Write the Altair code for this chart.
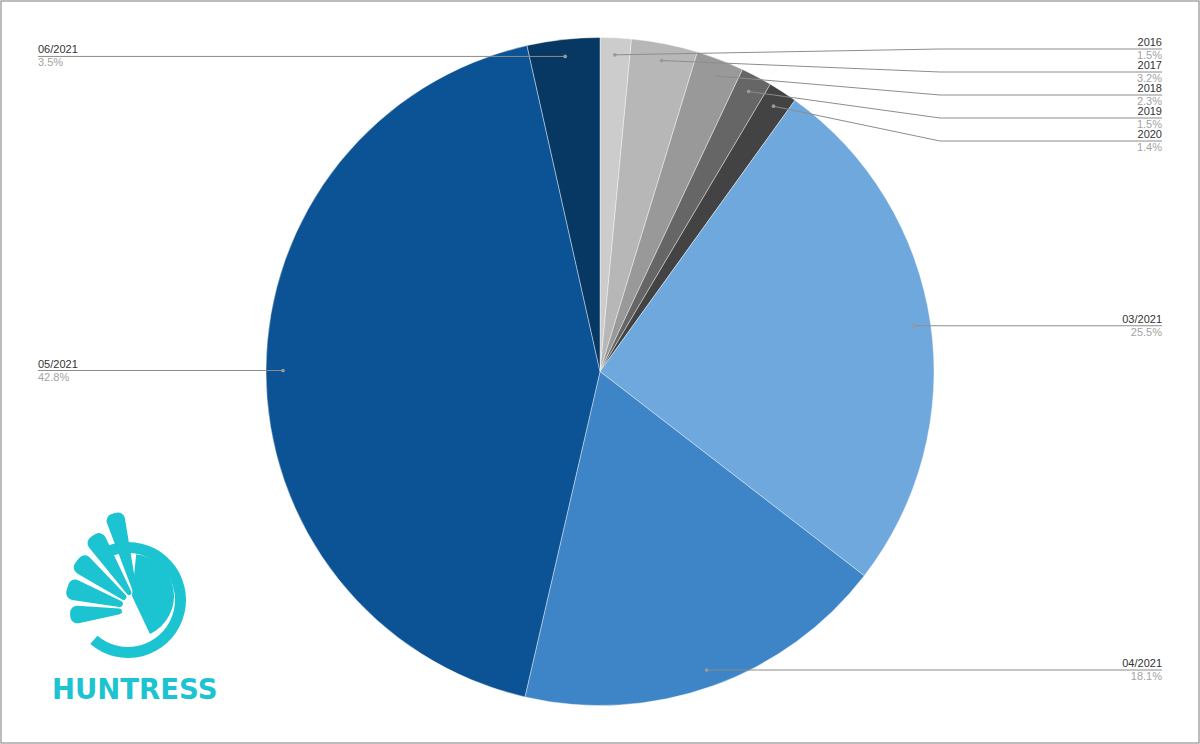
import numpy as np
import pandas as pd
import altair as alt

# Share of samples by date of first appearance
names = ["2016", "2017", "2018", "2019", "2020", "03/2021", "04/2021", "05/2021", "06/2021"]
shares = [1.5, 3.2, 2.3, 1.5, 1.4, 25.5, 18.1, 42.8, 3.5]
colors = ["#cccccc", "#b7b7b7", "#999999", "#666666", "#434343",
          "#6fa8dc", "#3d85c6", "#0b5394", "#073763"]

W, H = 1200, 744
CX, CY, R = 600, 371.5, 334          # pie centre and radius (px)
DOT_R = 317                           # radius where leader lines start
RIGHT_X, LEFT_X, BEND_X = 1162, 38, 940
LABEL_TOP, LABEL_GAP = 49, 23
FONT = "Liberation Sans"
TEAL = "#1cc3d1"

vals = np.array(shares, dtype=float)
total = vals.sum()
mid = (np.cumsum(vals) - vals / 2) / total * 2 * np.pi

df = pd.DataFrame({
    "name": names,
    "value": vals,
    "idx": range(len(names)),
    "pct": [f"{v}%" for v in shares],
})
df["dot_x"] = CX + DOT_R * np.sin(mid)
df["dot_y"] = CY - DOT_R * np.cos(mid)
df["side"] = np.where(np.sin(mid) >= 0, "right", "left")


def place(dot_ys):
    """Stack labels so they keep a minimum gap; crowded stacks start at the top."""
    ys, prev = [], -1e9
    for d in dot_ys:
        y = max(d, prev + LABEL_GAP)
        ys.append(y)
        prev = y
    ys = np.array(ys)
    crowded = [i for i in range(len(ys) - 1) if ys[i + 1] - ys[i] <= LABEL_GAP + 1e-9]
    if crowded:
        start = crowded[0]
        if ys[start] - LABEL_TOP < LABEL_GAP:
            end = start
            while end + 1 < len(ys) and ys[end + 1] - ys[end] <= LABEL_GAP + 1e-9:
                end += 1
            shift = ys[start] - LABEL_TOP
            ys[start:end + 1] -= shift
    return ys


df["label_y"] = df["dot_y"]
df["label_x"] = np.where(df["side"] == "right", RIGHT_X, LEFT_X)
df["bend_x"] = np.where(df["side"] == "right", BEND_X, df["dot_x"])
right = df[df["side"] == "right"].sort_values("dot_y")
df.loc[right.index, "label_y"] = place(right["dot_y"].to_numpy())

pie = alt.Chart(df).mark_arc(radius=R, stroke="white", strokeWidth=0.5, strokeOpacity=0.8).encode(
    theta=alt.Theta("value:Q", stack=True),
    order=alt.Order("idx:Q"),
    color=alt.Color("name:N", scale=alt.Scale(domain=names, range=colors), legend=None),
    x=alt.value(CX),
    y=alt.value(CY),
)

leader_a = alt.Chart(df).mark_rule(color="#8c8c8c", strokeWidth=1).encode(
    x=alt.X("dot_x:Q", scale=None), y=alt.Y("dot_y:Q", scale=None),
    x2="bend_x:Q", y2="label_y:Q",
)
leader_b = alt.Chart(df).mark_rule(color="#8c8c8c", strokeWidth=1).encode(
    x=alt.X("bend_x:Q", scale=None), y=alt.Y("label_y:Q", scale=None),
    x2="label_x:Q", y2="label_y:Q",
)
dots = alt.Chart(df).mark_circle(size=14, color="#999999", opacity=1).encode(
    x=alt.X("dot_x:Q", scale=None), y=alt.Y("dot_y:Q", scale=None),
)


def label_layer(side, field, dy, color):
    align = "right" if side == "right" else "left"
    return alt.Chart(df).transform_filter(alt.datum.side == side).mark_text(
        align=align, baseline="alphabetic", dy=dy, font=FONT, fontSize=11, color=color,
    ).encode(
        x=alt.X("label_x:Q", scale=None), y=alt.Y("label_y:Q", scale=None),
        text=f"{field}:N",
    )


labels = [
    label_layer("right", "name", -3, "#333333"),
    label_layer("right", "pct", 10, "#a3a3a3"),
    label_layer("left", "name", -3, "#333333"),
    label_layer("left", "pct", 10, "#a3a3a3"),
]

one = pd.DataFrame({"k": [0]})

# Brand mark in the lower-left corner: ring, helmet and wing feathers
LX, LY = 128, 600
TWO_PI = 2 * np.pi
logo = [
    alt.Chart(one).mark_arc(radius=58, radius2=47, theta=0, theta2=3.85, color=TEAL)
    .encode(x=alt.value(LX), y=alt.value(LY)),
    alt.Chart(one).mark_arc(radius=58, radius2=47, theta=TWO_PI - 0.35, theta2=TWO_PI, color=TEAL)
    .encode(x=alt.value(LX), y=alt.value(LY)),
    alt.Chart(one).mark_arc(radius=42, radius2=0, theta=0.1, theta2=2.7, color=TEAL)
    .encode(x=alt.value(LX + 4), y=alt.value(LY - 4)),
]
for a0, a1, r in [(4.5, 4.78, 70), (4.86, 5.16, 76), (5.24, 5.52, 80),
                  (5.6, 5.84, 88), (5.92, 6.12, 100)]:
    logo.append(
        alt.Chart(one).mark_arc(radius=r, radius2=18, theta=a0, theta2=a1, color=TEAL,
                                cornerRadius=7)
        .encode(x=alt.value(LX + 12), y=alt.value(LY + 10))
    )
logo.append(
    alt.Chart(one).mark_text(text="HUNTRESS", font="DejaVu Sans", fontWeight="bold",
                             fontSize=27.5, color=TEAL, align="left", baseline="alphabetic")
    .encode(x=alt.value(52), y=alt.value(699))
)

frame = alt.Chart(one).mark_rect(fillOpacity=0, stroke="#a6a6a6", strokeWidth=1.5).encode(
    x=alt.value(1), x2=alt.value(W - 1), y=alt.value(1), y2=alt.value(H - 1),
)

chart = alt.layer(
    pie, leader_a, leader_b, dots, *labels, *logo, frame
).properties(
    width=W, height=H, padding=0, background="white",
    autosize=alt.AutoSizeParams(type="fit", contains="padding"),
).configure_view(stroke=None)

chart.save("out.html", embed_options={"renderer": "svg", "actions": False})
